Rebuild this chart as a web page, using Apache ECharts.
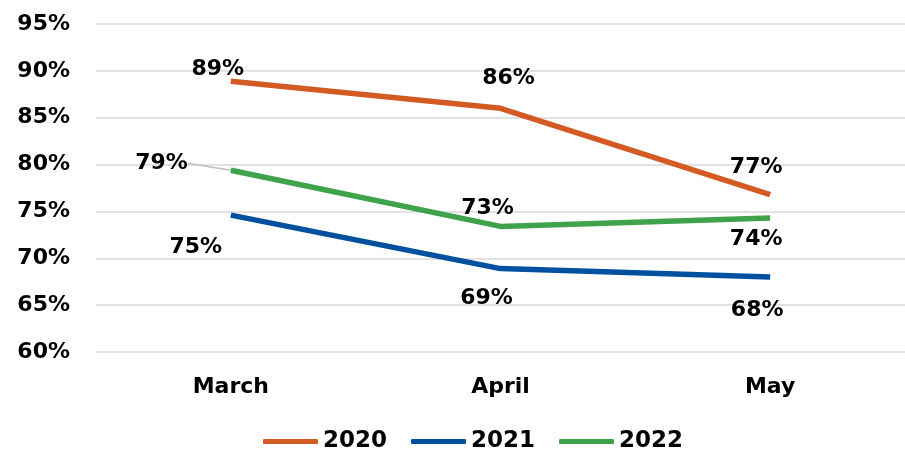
<!DOCTYPE html>
<html>
<head>
<meta charset="utf-8">
<script src="https://cdn.jsdelivr.net/npm/echarts@6/dist/echarts.min.js"></script>
<style>
  html, body { margin: 0; padding: 0; background: #fff; }
  #chart { width: 905px; height: 458px; }
</style>
</head>
<body>
<div id="chart"></div>
<script>
const months = ['March', 'April', 'May'];
const years = ['2020', '2021', '2022'];
const v2020 = [88.9, 86.0, 76.8];
const v2021 = [74.6, 68.9, 68.0];
const v2022 = [79.4, 73.4, 74.3];
const shown2020 = ['89%', '86%', '77%'];
const shown2021 = ['75%', '69%', '68%'];
const shown2022 = ['79%', '73%', '74%'];
const colors = ['#D45A24', '#0050A0', '#3EA34A'];

const font = { fontFamily: 'DejaVu Sans', fontWeight: 'bold', fontSize: 22, color: '#000' };

// label placement per point: [position, dx, dy, leader line]
const place2020 = [['top', -13, 4], ['top', 8, -14], ['top', -14, -11]];
const place2021 = [['bottom', -35, 16], ['bottom', -14, 14], ['bottom', -13, 17]];
const place2022 = [['left', -38, -7, true], ['top', -13, -2], ['bottom', -14, 5]];

function points(vals, shown, place) {
  return vals.map((v, i) => ({
    value: v,
    label: {
      show: true,
      position: place[i][0],
      formatter: shown[i],
      ...font
    },
    labelLine: {
      show: !!place[i][3],
      lineStyle: { color: '#bfbfbf', width: 1.5 }
    }
  }));
}

function lineSeries(name, vals, shown, place) {
  return {
    name: name,
    type: 'line',
    symbol: 'circle',
    symbolSize: 0.1,
    showSymbol: true,
    lineStyle: { width: 5.5 },
    labelLayout: function (params) {
      return { dx: place[params.dataIndex][1], dy: place[params.dataIndex][2] };
    },
    data: points(vals, shown, place)
  };
}

let myecharts = echarts.init(document.getElementById('chart'));

myecharts.setOption({
  animation: false,
  color: colors,
  grid: { left: 96, right: 0, top: 24, bottom: 106 },
  xAxis: {
    type: 'category',
    data: months,
    axisLine: { show: false },
    axisTick: { show: false },
    axisLabel: { margin: 24, ...font }
  },
  yAxis: {
    type: 'value',
    min: 60,
    max: 95,
    interval: 5,
    axisLine: { show: false },
    axisTick: { show: false },
    splitLine: { lineStyle: { color: '#d9d9d9', width: 1.5 } },
    axisLabel: { margin: 26, formatter: '{value}%', ...font }
  },
  legend: {
    bottom: 0,
    left: 258,
    icon: 'roundRect',
    itemWidth: 55,
    itemHeight: 5,
    itemGap: 24,
    textStyle: { ...font, fontSize: 23 },
    data: years
  },
  series: [
    lineSeries('2020', v2020, shown2020, place2020),
    lineSeries('2021', v2021, shown2021, place2021),
    lineSeries('2022', v2022, shown2022, place2022)
  ]
});
</script>
</body>
</html>
